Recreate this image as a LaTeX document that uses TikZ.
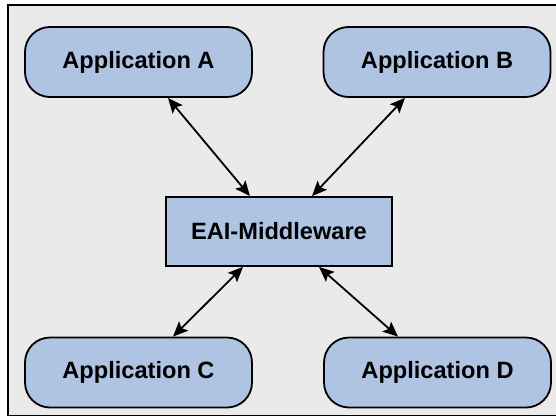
\documentclass[tikz,border=0pt]{standalone}
\usepackage{fontspec}
\setmainfont{Liberation Sans}
\usetikzlibrary{arrows.meta}
\definecolor{appfill}{HTML}{AFC3E3}
\definecolor{panel}{HTML}{EAEAEA}
\begin{document}
\begin{tikzpicture}[x=1pt,y=-1pt,
  appbox/.style={draw=black, line width=1.8pt, fill=appfill, rounded corners=25pt,
    minimum width=227pt, minimum height=70pt, inner sep=0pt,
    font=\bfseries\fontsize{23.6}{27}\selectfont},
  mwbox/.style={draw=black, line width=1.8pt, fill=appfill,
    minimum width=226pt, minimum height=69pt, inner sep=0pt,
    font=\bfseries\fontsize{23.6}{27}\selectfont},
  tip/.style={Stealth[length=15pt,width=13pt,inset=3pt]},
  link/.style={line width=1.8pt, {Stealth[length=15pt,width=13pt,inset=3pt]}-{Stealth[length=15pt,width=13pt,inset=3pt]}}]
\useasboundingbox (0,0) rectangle (556,415);
\clip (0,0) rectangle (556,415);
% panel behind the diagram
\draw[line width=2pt, fill=panel] (8,5) rectangle (560,415.5);

\node[appbox] (A) at (138.5,62) {Application A};
\node[appbox] (B) at (437,62) {Application B};
\node[appbox] (C) at (138.5,372.5) {Application C};
\node[appbox] (D) at (437.5,372.5) {Application D};
\node[mwbox] (M) at (279,231.5) {EAI-Middleware};

\draw[link] ([xshift=29.5pt]A.south) -- ([xshift=-29pt]M.north);
\draw[link] ([xshift=-32pt]B.south) -- ([xshift=33pt]M.north);
\draw[link] ([xshift=-36pt]M.south) -- ([xshift=34.5pt]C.north);
\draw[link] ([xshift=40pt]M.south) -- ([xshift=-39.5pt]D.north);
\end{tikzpicture}
\end{document}
